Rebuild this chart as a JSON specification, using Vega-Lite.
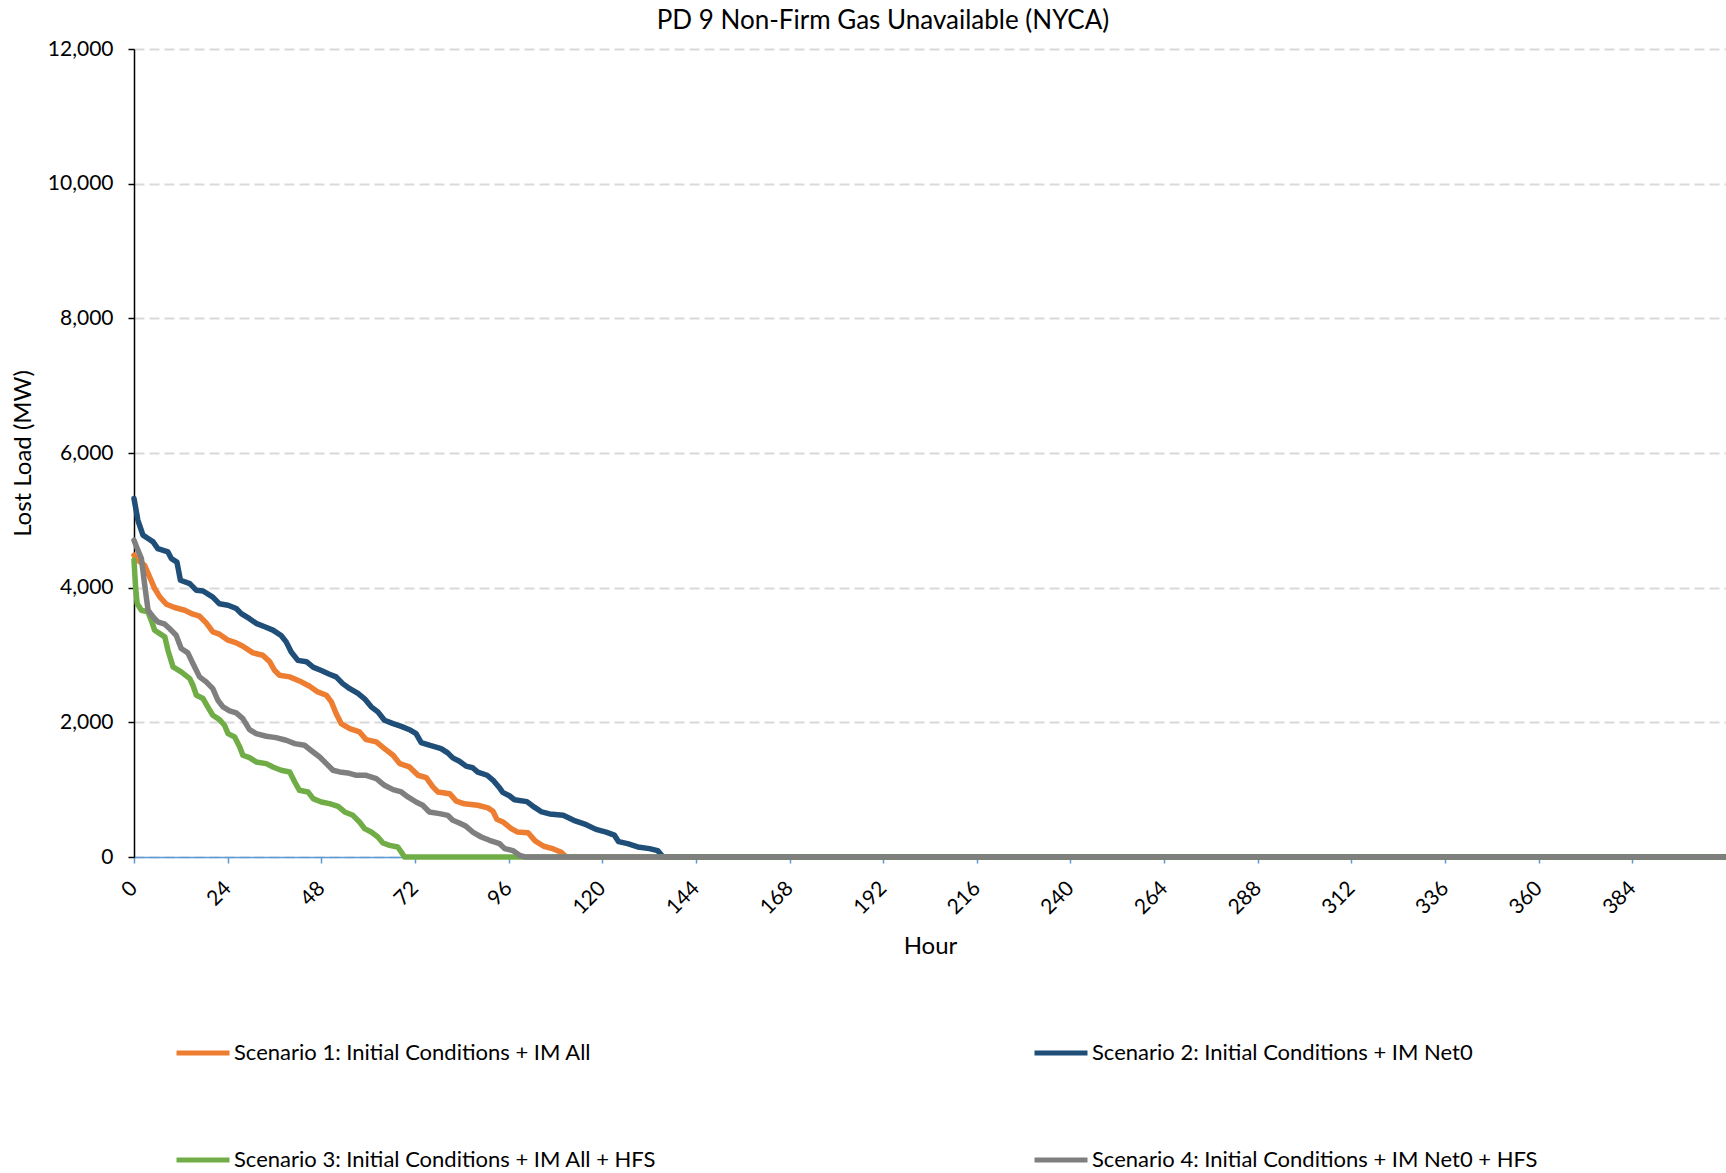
{
  "$schema": "https://vega.github.io/schema/vega-lite/v6.json",
  "width": 1592,
  "height": 808,
  "autosize": {"type": "none"},
  "padding": {"left": 134, "top": 49, "right": 0, "bottom": 316},
  "background": "white",
  "config": {
    "font": "Lato",
    "view": {"stroke": null}
  },
  "title": {
    "text": "PD 9 Non-Firm Gas Unavailable (NYCA)",
    "font": "Lato",
    "fontSize": 26,
    "fontWeight": "normal",
    "color": "#000000",
    "anchor": "middle",
    "dx": -47,
    "offset": 4
  },
  "datasets": {
    "s1": [
      {"hour": 0, "lost_load": 4482}, {"hour": 1, "lost_load": 4408}, {"hour": 2.7, "lost_load": 4334}, {"hour": 4, "lost_load": 4160},
      {"hour": 5.3, "lost_load": 3987}, {"hour": 6.6, "lost_load": 3863}, {"hour": 8.3, "lost_load": 3754}, {"hour": 10.4, "lost_load": 3705},
      {"hour": 13, "lost_load": 3665}, {"hour": 15.1, "lost_load": 3606}, {"hour": 16.8, "lost_load": 3576}, {"hour": 18.5, "lost_load": 3477},
      {"hour": 20.2, "lost_load": 3343}, {"hour": 21.9, "lost_load": 3309}, {"hour": 24.1, "lost_load": 3220}, {"hour": 26.2, "lost_load": 3180},
      {"hour": 27.9, "lost_load": 3130}, {"hour": 30.5, "lost_load": 3031}, {"hour": 33, "lost_load": 2997}, {"hour": 34.8, "lost_load": 2898},
      {"hour": 36, "lost_load": 2774}, {"hour": 37.3, "lost_load": 2699}, {"hour": 39.9, "lost_load": 2675}, {"hour": 42.4, "lost_load": 2615},
      {"hour": 45, "lost_load": 2536}, {"hour": 47.1, "lost_load": 2452}, {"hour": 49.3, "lost_load": 2402}, {"hour": 50.6, "lost_load": 2303},
      {"hour": 51.8, "lost_load": 2130}, {"hour": 53.1, "lost_load": 1981}, {"hour": 55.3, "lost_load": 1907}, {"hour": 57.8, "lost_load": 1857},
      {"hour": 59.5, "lost_load": 1743}, {"hour": 62.1, "lost_load": 1709}, {"hour": 64.2, "lost_load": 1610}, {"hour": 66.4, "lost_load": 1511},
      {"hour": 68.1, "lost_load": 1387}, {"hour": 70.6, "lost_load": 1338}, {"hour": 72.8, "lost_load": 1214}, {"hour": 74.9, "lost_load": 1179},
      {"hour": 76.6, "lost_load": 1041}, {"hour": 77.9, "lost_load": 966}, {"hour": 80.9, "lost_load": 940}, {"hour": 82.6, "lost_load": 830},
      {"hour": 84.7, "lost_load": 790}, {"hour": 88.1, "lost_load": 768}, {"hour": 90.7, "lost_load": 730}, {"hour": 92, "lost_load": 680},
      {"hour": 93, "lost_load": 560}, {"hour": 94.7, "lost_load": 515}, {"hour": 96.7, "lost_load": 421}, {"hour": 98.2, "lost_load": 372},
      {"hour": 101, "lost_load": 360}, {"hour": 102.8, "lost_load": 240}, {"hour": 105, "lost_load": 160}, {"hour": 107.5, "lost_load": 120},
      {"hour": 109.5, "lost_load": 70}, {"hour": 110.8, "lost_load": 0}, {"hour": 408, "lost_load": 0}
    ],
    "s2": [
      {"hour": 0, "lost_load": 5325}, {"hour": 1, "lost_load": 5000}, {"hour": 2.3, "lost_load": 4780}, {"hour": 3.6, "lost_load": 4730},
      {"hour": 4.9, "lost_load": 4680}, {"hour": 6.1, "lost_load": 4580}, {"hour": 8.7, "lost_load": 4530}, {"hour": 9.6, "lost_load": 4430},
      {"hour": 11, "lost_load": 4380}, {"hour": 11.9, "lost_load": 4110}, {"hour": 14.3, "lost_load": 4060}, {"hour": 16, "lost_load": 3960},
      {"hour": 17.7, "lost_load": 3950}, {"hour": 20.2, "lost_load": 3860}, {"hour": 21.9, "lost_load": 3760}, {"hour": 24.1, "lost_load": 3740},
      {"hour": 26.2, "lost_load": 3690}, {"hour": 27.5, "lost_load": 3615}, {"hour": 29.6, "lost_load": 3540}, {"hour": 31.3, "lost_load": 3470},
      {"hour": 33.5, "lost_load": 3420}, {"hour": 35.6, "lost_load": 3370}, {"hour": 37.7, "lost_load": 3290}, {"hour": 39, "lost_load": 3195},
      {"hour": 40.3, "lost_load": 3045}, {"hour": 42, "lost_load": 2920}, {"hour": 44.2, "lost_load": 2900}, {"hour": 45.9, "lost_load": 2820},
      {"hour": 48, "lost_load": 2770}, {"hour": 50.1, "lost_load": 2715}, {"hour": 51.8, "lost_load": 2675}, {"hour": 53.5, "lost_load": 2575},
      {"hour": 55.3, "lost_load": 2500}, {"hour": 57.4, "lost_load": 2430}, {"hour": 59.1, "lost_load": 2350}, {"hour": 60.8, "lost_load": 2230},
      {"hour": 62.5, "lost_load": 2155}, {"hour": 64.2, "lost_load": 2030}, {"hour": 66.4, "lost_load": 1980}, {"hour": 68.5, "lost_load": 1940},
      {"hour": 70.6, "lost_load": 1890}, {"hour": 72.3, "lost_load": 1833}, {"hour": 73.6, "lost_load": 1700}, {"hour": 75.7, "lost_load": 1660},
      {"hour": 78.7, "lost_load": 1610}, {"hour": 80.4, "lost_load": 1546}, {"hour": 81.7, "lost_load": 1472}, {"hour": 83.4, "lost_load": 1422},
      {"hour": 85.1, "lost_load": 1350}, {"hour": 86.8, "lost_load": 1325}, {"hour": 88.1, "lost_load": 1260}, {"hour": 90.5, "lost_load": 1214},
      {"hour": 92.2, "lost_load": 1130}, {"hour": 93.5, "lost_load": 1040}, {"hour": 94.5, "lost_load": 960}, {"hour": 96.2, "lost_load": 910},
      {"hour": 97.5, "lost_load": 850}, {"hour": 100.7, "lost_load": 822}, {"hour": 102.6, "lost_load": 740}, {"hour": 104.5, "lost_load": 669},
      {"hour": 106.5, "lost_load": 640}, {"hour": 110, "lost_load": 620}, {"hour": 112.7, "lost_load": 545}, {"hour": 115.9, "lost_load": 480},
      {"hour": 118.4, "lost_load": 410}, {"hour": 121, "lost_load": 370}, {"hour": 123.1, "lost_load": 325}, {"hour": 124.2, "lost_load": 228},
      {"hour": 126.5, "lost_load": 198}, {"hour": 129.1, "lost_load": 149}, {"hour": 132.1, "lost_load": 124}, {"hour": 134.2, "lost_load": 95},
      {"hour": 135.6, "lost_load": 0}, {"hour": 408, "lost_load": 0}
    ],
    "s3": [
      {"hour": 0, "lost_load": 4408}, {"hour": 0.4, "lost_load": 4012}, {"hour": 0.8, "lost_load": 3764}, {"hour": 1.9, "lost_load": 3665},
      {"hour": 3.6, "lost_load": 3640}, {"hour": 4.4, "lost_load": 3517}, {"hour": 5.3, "lost_load": 3368}, {"hour": 6.6, "lost_load": 3318},
      {"hour": 7.9, "lost_load": 3269}, {"hour": 8.7, "lost_load": 3071}, {"hour": 10, "lost_load": 2823}, {"hour": 12.1, "lost_load": 2749},
      {"hour": 14.3, "lost_load": 2650}, {"hour": 15.1, "lost_load": 2551}, {"hour": 16, "lost_load": 2402}, {"hour": 17.7, "lost_load": 2353},
      {"hour": 18.9, "lost_load": 2229}, {"hour": 20.2, "lost_load": 2105}, {"hour": 21.9, "lost_load": 2041}, {"hour": 23.2, "lost_load": 1956},
      {"hour": 24.1, "lost_load": 1833}, {"hour": 25.8, "lost_load": 1783}, {"hour": 27.1, "lost_load": 1634}, {"hour": 27.9, "lost_load": 1511},
      {"hour": 29.6, "lost_load": 1476}, {"hour": 31.3, "lost_load": 1412}, {"hour": 33.9, "lost_load": 1387}, {"hour": 35.6, "lost_load": 1337},
      {"hour": 37.7, "lost_load": 1288}, {"hour": 39.9, "lost_load": 1263}, {"hour": 41.2, "lost_load": 1114}, {"hour": 42.4, "lost_load": 991},
      {"hour": 44.6, "lost_load": 966}, {"hour": 45.9, "lost_load": 867}, {"hour": 48, "lost_load": 817}, {"hour": 50.1, "lost_load": 792},
      {"hour": 52.3, "lost_load": 753}, {"hour": 54, "lost_load": 669}, {"hour": 56.1, "lost_load": 619}, {"hour": 57.8, "lost_load": 520},
      {"hour": 59.1, "lost_load": 421}, {"hour": 60.8, "lost_load": 371}, {"hour": 62.5, "lost_load": 297}, {"hour": 63.8, "lost_load": 208},
      {"hour": 65.5, "lost_load": 173}, {"hour": 67.6, "lost_load": 149}, {"hour": 68.5, "lost_load": 74}, {"hour": 69.3, "lost_load": 0},
      {"hour": 408, "lost_load": 0}
    ],
    "s4": [
      {"hour": 0, "lost_load": 4705}, {"hour": 1, "lost_load": 4557}, {"hour": 1.9, "lost_load": 4433}, {"hour": 2.7, "lost_load": 4061},
      {"hour": 3.6, "lost_load": 3665}, {"hour": 4.9, "lost_load": 3566}, {"hour": 6.1, "lost_load": 3492}, {"hour": 7.9, "lost_load": 3457},
      {"hour": 9.1, "lost_load": 3393}, {"hour": 10.8, "lost_load": 3294}, {"hour": 12.1, "lost_load": 3096}, {"hour": 13.8, "lost_load": 3031},
      {"hour": 15.1, "lost_load": 2873}, {"hour": 16.8, "lost_load": 2675}, {"hour": 18.5, "lost_load": 2600}, {"hour": 20.2, "lost_load": 2501},
      {"hour": 21.5, "lost_load": 2328}, {"hour": 22.8, "lost_load": 2229}, {"hour": 24.5, "lost_load": 2170}, {"hour": 26.2, "lost_load": 2140},
      {"hour": 27.9, "lost_load": 2055}, {"hour": 29.6, "lost_load": 1892}, {"hour": 31.3, "lost_load": 1833}, {"hour": 33.9, "lost_load": 1793},
      {"hour": 36.4, "lost_load": 1773}, {"hour": 39, "lost_load": 1734}, {"hour": 41.2, "lost_load": 1684}, {"hour": 43.7, "lost_load": 1659},
      {"hour": 45.9, "lost_load": 1560}, {"hour": 47.6, "lost_load": 1486}, {"hour": 49.3, "lost_load": 1387}, {"hour": 51, "lost_load": 1288},
      {"hour": 52.7, "lost_load": 1263}, {"hour": 54.8, "lost_load": 1248}, {"hour": 57, "lost_load": 1213}, {"hour": 59.5, "lost_load": 1213},
      {"hour": 62.1, "lost_load": 1164}, {"hour": 64.2, "lost_load": 1065}, {"hour": 66.4, "lost_load": 1000}, {"hour": 68.5, "lost_load": 966},
      {"hour": 70.2, "lost_load": 892}, {"hour": 72.3, "lost_load": 817}, {"hour": 74, "lost_load": 768}, {"hour": 75.7, "lost_load": 669},
      {"hour": 78.3, "lost_load": 644}, {"hour": 80.4, "lost_load": 619}, {"hour": 81.7, "lost_load": 545}, {"hour": 83.4, "lost_load": 505},
      {"hour": 85.1, "lost_load": 456}, {"hour": 86.8, "lost_load": 371}, {"hour": 89, "lost_load": 297}, {"hour": 91.1, "lost_load": 248},
      {"hour": 93.7, "lost_load": 198}, {"hour": 95, "lost_load": 124}, {"hour": 97.1, "lost_load": 95}, {"hour": 98.8, "lost_load": 25},
      {"hour": 100.2, "lost_load": 0}, {"hour": 408, "lost_load": 0}
    ]
  },
  "layer": [
    {"data": {"name": "s1"}, "transform": [{"calculate": "'Scenario 1: Initial Conditions + IM All'", "as": "scenario"}], "mark": {"type": "line", "strokeWidth": 5.5, "strokeJoin": "round", "strokeCap": "round"}},
    {"data": {"name": "s2"}, "transform": [{"calculate": "'Scenario 2: Initial Conditions + IM Net0'", "as": "scenario"}], "mark": {"type": "line", "strokeWidth": 5.5, "strokeJoin": "round", "strokeCap": "round"}},
    {"data": {"name": "s3"}, "transform": [{"calculate": "'Scenario 3: Initial Conditions + IM All + HFS'", "as": "scenario"}], "mark": {"type": "line", "strokeWidth": 5.5, "strokeJoin": "round", "strokeCap": "round"}},
    {"data": {"name": "s4"}, "transform": [{"calculate": "'Scenario 4: Initial Conditions + IM Net0 + HFS'", "as": "scenario"}], "mark": {"type": "line", "strokeWidth": 5.5, "strokeJoin": "round", "strokeCap": "round"}}
  ],
  "encoding": {
    "x": {
      "field": "hour", "type": "quantitative",
      "scale": {"domain": [0, 408], "nice": false, "zero": true},
      "axis": {
        "title": "Hour", "titleFont": "Lato", "titleFontSize": 24, "titleFontWeight": "normal", "titleColor": "#000000", "titlePadding": 17,
        "values": [0, 24, 48, 72, 96, 120, 144, 168, 192, 216, 240, 264, 288, 312, 336, 360, 384],
        "labelAngle": -45, "labelAlign": "right", "labelBaseline": "middle", "labelPadding": 22,
        "labelFont": "Lato", "labelFontSize": 21, "labelColor": "#000000", "labelFlush": false, "labelOverlap": false,
        "domainColor": "#5B9BD5", "domainWidth": 1.5, "tickColor": "#5B9BD5", "tickWidth": 1.5, "tickSize": 6,
        "grid": false
      }
    },
    "y": {
      "field": "lost_load", "type": "quantitative",
      "scale": {"domain": [0, 12000], "nice": false},
      "axis": {
        "title": "Lost Load (MW)", "titleFont": "Lato", "titleFontSize": 24, "titleFontWeight": "normal", "titleColor": "#000000", "titlePadding": 12,
        "values": [0, 2000, 4000, 6000, 8000, 10000, 12000],
        "labelExpr": "format(datum.value, ',.0f')",
        "labelFont": "Lato", "labelFontSize": 21, "labelColor": "#000000", "labelPadding": 15,
        "domainColor": "#000000", "domainWidth": 1.5, "tickColor": "#000000", "tickWidth": 1.5, "tickSize": 6,
        "grid": true, "gridColor": "#D9D9D9", "gridWidth": 2, "gridDash": [10, 5]
      }
    },
    "color": {
      "field": "scenario", "type": "nominal",
      "scale": {
        "domain": ["Scenario 1: Initial Conditions + IM All", "Scenario 2: Initial Conditions + IM Net0", "Scenario 3: Initial Conditions + IM All + HFS", "Scenario 4: Initial Conditions + IM Net0 + HFS"],
        "range": ["#ED7D31", "#1F4E79", "#70AD47", "#7F7F7F"]
      },
      "legend": {
        "title": null, "orient": "none", "legendX": 40, "legendY": 975, "columns": 2, "direction": "horizontal",
        "columnPadding": 367, "rowPadding": 67,
        "symbolType": "stroke", "symbolSize": 2809, "symbolStrokeWidth": 5, "labelOffset": 2,
        "labelFont": "Lato", "labelFontSize": 22, "labelColor": "#000000", "labelLimit": 1000
      }
    }
  }
}
